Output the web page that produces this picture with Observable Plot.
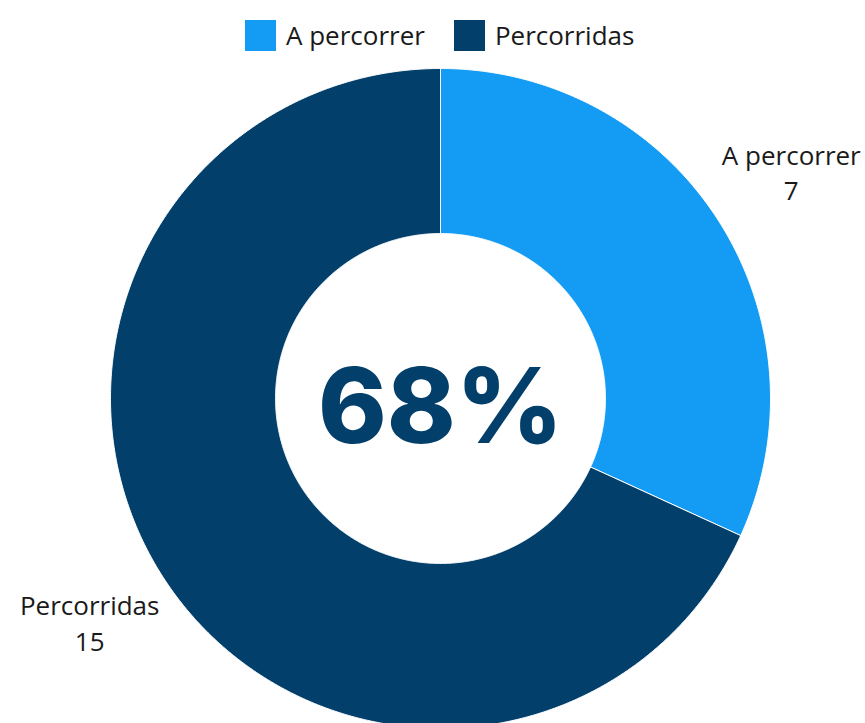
<!DOCTYPE html>
<html><head><meta charset="utf-8">
<script src="https://cdn.jsdelivr.net/npm/d3@7"></script>
<script src="https://cdn.jsdelivr.net/npm/@observablehq/plot@0.6"></script>
<style>
body{margin:0;background:#fff;font-family:"Open Sans",sans-serif;}
#wrap{position:relative;width:865px;height:723px;overflow:hidden;}
#legend{position:absolute;top:20px;left:245px;display:flex;align-items:center;font-size:26px;color:#1a1a1a;line-height:31px;}
#legend .sw{width:31px;height:31px;margin-right:10px;}
#legend .item{display:flex;align-items:center;margin-right:29px;}
</style></head><body>
<div id="wrap"><div id="legend"></div></div>
<script>
const categories = ["A percorrer", "Percorridas"];
const values = [7, 15];
const colors = ["#149BF3", "#023F6B"];

const W = 865, H = 723;
const cx = 440, cy = 398, R = 330, r0 = 165, labelR = 417;

const total = d3.sum(values);
const pie = d3.pie().sort(null).value(d => d.value)(categories.map((c, i) => ({category: c, value: values[i]})));

// ring polygons sampled along the arcs
const poly = [];
for (const s of pie) {
  const n = Math.max(8, Math.ceil((s.endAngle - s.startAngle) / 0.005));
  const pts = [];
  for (let k = 0; k <= n; k++) { const a = s.startAngle + (s.endAngle - s.startAngle) * k / n; pts.push([a, R]); }
  for (let k = n; k >= 0; k--) { const a = s.startAngle + (s.endAngle - s.startAngle) * k / n; pts.push([a, r0]); }
  pts.push(pts[0]);
  for (const [a, rr] of pts) poly.push({category: s.data.category, x: cx + rr * Math.sin(a), y: cy - rr * Math.cos(a)});
}
const labels = pie.map(s => {
  const a = (s.startAngle + s.endAngle) / 2;
  return {category: s.data.category, text: `${s.data.category}\n${s.data.value}`, x: cx + labelR * Math.sin(a), y: cy - labelR * Math.cos(a)};
});
const pct = Math.round(values[1] / total * 100) + "%";

const chart = Plot.plot({
  width: W, height: H, margin: 0,
  x: {domain: [0, W], range: [0, W], axis: null},
  y: {domain: [0, H], range: [0, H], axis: null},
  color: {domain: categories, range: colors},
  style: {background: "white", fontFamily: "Open Sans"},
  marks: [
    Plot.line(poly, {x: "x", y: "y", z: "category", fill: "category", stroke: "white", strokeWidth: 1, curve: "linear"}),
    Plot.text(labels, {x: "x", y: "y", dy: -2, text: "text", fontSize: 26, lineHeight: 1.38, fill: "#1a1a1a", textAnchor: "middle", lineAnchor: "middle", fontFamily: "Open Sans"}),
    Plot.text([pct], {x: () => cx, y: () => cy + 11, text: d => d, fontSize: 104, fontWeight: 800, fill: colors[1], textAnchor: "middle", lineAnchor: "middle", fontFamily: "Inter"})
  ]
});
const wrap = document.getElementById("wrap");
wrap.insertBefore(chart, wrap.firstChild);
const leg = document.getElementById("legend");
categories.forEach((c, i) => {
  const it = document.createElement("div"); it.className = "item";
  const sw = document.createElement("div"); sw.className = "sw"; sw.style.background = colors[i];
  const t = document.createElement("span"); t.textContent = c;
  it.appendChild(sw); it.appendChild(t); leg.appendChild(it);
});
</script>
</body></html>
